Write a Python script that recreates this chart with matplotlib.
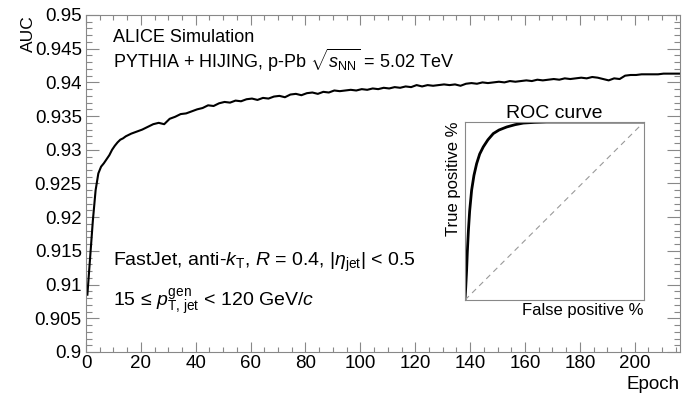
import matplotlib
matplotlib.use('Agg')
import matplotlib.pyplot as plt
from matplotlib.ticker import MultipleLocator

# font setup (Helvetica-like)
plt.rcParams['font.family'] = ['Liberation Sans', 'DejaVu Sans']
plt.rcParams['mathtext.fontset'] = 'custom'
plt.rcParams['mathtext.rm'] = 'Liberation Sans'
plt.rcParams['mathtext.it'] = 'Liberation Sans:italic'
plt.rcParams['mathtext.bf'] = 'Liberation Sans:bold'

# AUC per epoch
epochs = [0.5, 1.5, 2.5, 3.5, 4.5, 5.5, 6.5, 7.5, 8.5, 9.5, 10.5, 11.5, 12.5,
          13.5, 14.5, 15.5,
          16.5, 18.5, 20.5, 22.5, 24.5, 26.5, 28.5, 30.5, 32.5, 34.5, 36.5,
          38.5, 40.5, 42.5, 44.5, 46.5, 48.5, 50.5, 52.5, 54.5, 56.5, 58.5,
          60.5, 62.5, 64.5, 66.5, 68.5, 70.5, 72.5, 74.5, 76.5, 78.5, 80.5,
          82.5, 84.5, 86.5, 88.5, 90.5, 92.5, 94.5, 96.5, 98.5, 100.5, 102.5,
          104.5, 106.5, 108.5, 110.5, 112.5, 114.5, 116.5, 118.5, 120.5,
          122.5, 124.5, 126.5, 128.5, 130.5, 132.5, 134.5, 136.5, 138.5,
          140.5, 142.5, 144.5, 146.5, 148.5, 150.5, 152.5, 154.5, 156.5,
          158.5, 160.5, 162.5, 164.5, 166.5, 168.5, 170.5, 172.5, 174.5,
          176.5, 178.5, 180.5, 182.5, 184.5, 186.5, 188.5, 190.5, 192.5,
          194.5, 196.5, 198.5, 200.5, 202.5, 204.5, 206.5, 208.5, 210.5,
          212.5, 214.5, 216.5]
auc = [0.9085, 0.9140, 0.9195, 0.9240, 0.9265, 0.9275, 0.9280, 0.9286,
       0.9292, 0.9300, 0.9306, 0.9311, 0.9315, 0.9317, 0.9320, 0.9322,
       0.9324, 0.9327, 0.9330, 0.9334, 0.9338, 0.9340, 0.9338, 0.9346,
       0.9349, 0.9353, 0.9354, 0.9357, 0.9360, 0.9362, 0.9366, 0.9365,
       0.9369, 0.9371, 0.9370, 0.9373, 0.9372, 0.9375, 0.9376, 0.9374,
       0.9377, 0.9376, 0.9379, 0.9380, 0.9378, 0.9382, 0.9383, 0.9381,
       0.9384, 0.9385, 0.9383, 0.9386, 0.9385, 0.9388, 0.9387, 0.9388,
       0.9389, 0.9388, 0.9390, 0.9389, 0.9391, 0.9390, 0.9392, 0.9391,
       0.9393, 0.9392, 0.9394, 0.9393, 0.9396, 0.9394, 0.9396, 0.9395,
       0.9396, 0.9397, 0.9396, 0.9397, 0.9395, 0.9398, 0.9399, 0.9398,
       0.9400, 0.9399, 0.9400, 0.9401, 0.9400, 0.9402, 0.9401, 0.9402,
       0.9403, 0.9402, 0.9404, 0.9403, 0.9404, 0.9405, 0.9404, 0.9406,
       0.9405, 0.9406, 0.9407, 0.9406, 0.9408, 0.9407, 0.9405, 0.9403,
       0.9406, 0.9405, 0.9410, 0.9411, 0.9411, 0.9412, 0.9412, 0.9412,
       0.9412, 0.9413, 0.9413, 0.9413, 0.9413]

# ROC curve for the inset
fpr = [0.0, 0.004, 0.009, 0.013, 0.019, 0.026, 0.037, 0.05, 0.065, 0.082,
       0.102, 0.128, 0.158, 0.19, 0.233, 0.28, 0.326, 0.39, 0.456, 0.6,
       0.8, 1.0]
tpr = [0.0, 0.07, 0.168, 0.27, 0.39, 0.5, 0.617, 0.70, 0.766, 0.82,
       0.86, 0.90, 0.935, 0.955, 0.972, 0.985, 0.994, 0.998, 1.0, 1.0,
       1.0, 1.0]

FRAME = '#888888'

fig = plt.figure(figsize=(6.83, 3.93), dpi=100)
ax = fig.add_axes([86 / 683, 41 / 393, 594 / 683, 337 / 393])
ax.plot(epochs, auc, color='black', lw=1.5)
ax.set_xlim(0, 216.5)
ax.set_ylim(0.9, 0.95)

ax.xaxis.set_major_locator(MultipleLocator(20))
ax.xaxis.set_minor_locator(MultipleLocator(5))
ax.yaxis.set_minor_locator(MultipleLocator(0.001))
ax.set_yticks([0.9, 0.905, 0.91, 0.915, 0.92, 0.925, 0.93, 0.935, 0.94, 0.945, 0.95])
ax.set_yticklabels(['0.9', '0.905', '0.91', '0.915', '0.92', '0.925', '0.93',
                    '0.935', '0.94', '0.945', '0.95'])
ax.tick_params(which='both', direction='in', top=True, right=True,
               color=FRAME, width=0.8, labelsize=13.5)
ax.tick_params(axis='x', which='major', length=7, pad=2)
ax.tick_params(axis='x', which='minor', length=3.5)
ax.tick_params(axis='y', which='major', length=9.5, pad=3)
ax.tick_params(axis='y', which='minor', length=4.5)
for s in ax.spines.values():
    s.set_color(FRAME)
    s.set_linewidth(0.8)

ax.set_xlabel('Epoch', fontsize=13.5, loc='right', labelpad=3)
ax.set_ylabel('AUC', fontsize=12.5, loc='top', labelpad=-1)

ax.text(0.045, 0.932, 'ALICE Simulation', transform=ax.transAxes, fontsize=13,
        va='center')
ax.text(0.045, 0.866, r'PYTHIA + HIJING, p-Pb $\sqrt{s_{\rm NN}}$ = 5.02 TeV',
        transform=ax.transAxes, fontsize=13, va='center')
ax.text(0.045, 0.267, r'FastJet, anti-$k_{\rm T}$, $R$ = 0.4, $|\eta_{\rm jet}|$ < 0.5',
        transform=ax.transAxes, fontsize=14, va='center')
ax.text(0.045, 0.15, '15 \u2264 ' + r'$p_{\rm T,\,jet}^{\rm gen}$ < 120 GeV/$c$',
        transform=ax.transAxes, fontsize=14, va='center')

# inset ROC
ins = fig.add_axes([465 / 683, 93 / 393, 179 / 683, 178 / 393])
ins.plot(fpr, tpr, color='black', lw=2)
ins.plot([0, 1], [0, 1], color='#999999', lw=0.8, ls=(0, (5, 4)))
ins.set_xlim(0, 1)
ins.set_ylim(0, 1)
ins.set_xticks([])
ins.set_yticks([])
for s in ins.spines.values():
    s.set_color(FRAME)
    s.set_linewidth(0.8)
ins.set_title('ROC curve', fontsize=14, pad=1)
ins.set_xlabel('False positive %', fontsize=12, loc='right', labelpad=2)
ins.set_ylabel('True positive %', fontsize=12, loc='top', labelpad=3)

fig.savefig('out.png', dpi=100)
